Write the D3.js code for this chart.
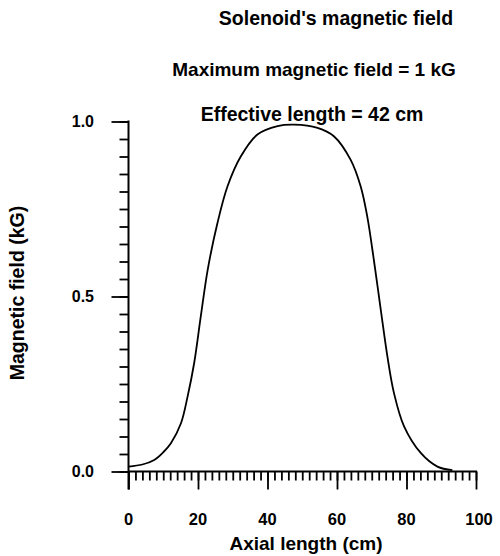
<!DOCTYPE html>
<html>
<head>
<meta charset="utf-8">
<script src="https://cdn.jsdelivr.net/npm/d3@7"></script>
<style>
  html, body { margin: 0; padding: 0; background: #fff; }
  svg { display: block; }
  text { font-family: "Liberation Sans", Arial, Helvetica, sans-serif; font-weight: bold; fill: #000; }
</style>
</head>
<body>
<script>
// ---- data ----
const axialLength = [0, 4, 7.4, 10, 12.2, 15.1, 17, 18.9, 20.8, 22.8, 25.6, 28.5, 32.3, 37.1, 42.9, 47.6, 54.4, 59.1, 63.9, 66.8, 68.7, 70.6, 72.6, 74.5, 76.4, 79.3, 84.1, 88.9, 93.2];
const fieldKG     = [0.014, 0.02, 0.033, 0.055, 0.081, 0.138, 0.214, 0.31, 0.443, 0.577, 0.71, 0.815, 0.90, 0.963, 0.987, 0.991, 0.982, 0.958, 0.891, 0.815, 0.729, 0.605, 0.462, 0.329, 0.224, 0.129, 0.053, 0.014, 0.004];
const xTickLabels = [0, 20, 40, 60, 80, 100];
const yTickLabels = [0.0, 0.5, 1.0];
const titleLines  = ["Solenoid's magnetic field", "Maximum magnetic field = 1 kG", "Effective length = 42 cm"];
const xTitle = "Axial length (cm)";
const yTitle = "Magnetic field (kG)";

const W = 500, H = 556;
const svg = d3.select("body").append("svg").attr("width", W).attr("height", H);

const x = d3.scaleLinear().domain([0, 100]).range([128.5, 476]);
const y = d3.scaleLinear().domain([0, 1]).range([471.5, 121.5]);

// titles
const titlePos = [[336, 25], [314, 76], [312, 121]];
const titleSize = [19.5, 19, 19.5];
svg.selectAll("text.title").data(titleLines).join("text")
  .attr("class", "title")
  .attr("x", (d, i) => titlePos[i][0])
  .attr("y", (d, i) => titlePos[i][1])
  .attr("text-anchor", "middle")
  .style("font-size", (d, i) => titleSize[i] + "px")
  .text(d => d);

// x axis: minor ticks every 2
const xAxisMinor = d3.axisBottom(x).tickValues(d3.range(0, 101, 2)).tickSize(9).tickFormat("");
const xAxisMajor = d3.axisBottom(x).tickValues(xTickLabels).tickSize(18).tickFormat("");
const gxMinor = svg.append("g").attr("transform", `translate(0,${y(0)})`).call(xAxisMinor);
const gxMajor = svg.append("g").attr("transform", `translate(0,${y(0)})`).call(xAxisMajor);
[gxMinor, gxMajor].forEach(g => {
  g.selectAll("path.domain").remove();
  g.selectAll("line").attr("stroke", "#000").attr("stroke-width", 1.8);
});
svg.append("line").attr("x1", x(0)).attr("x2", x(100) + 1).attr("y1", y(0)).attr("y2", y(0))
  .attr("stroke", "#000").attr("stroke-width", 2);

svg.selectAll("text.xtick").data(xTickLabels).join("text")
  .attr("class", "xtick")
  .attr("x", d => x(d) + (d === 100 ? 3 : 0))
  .attr("y", 525)
  .attr("text-anchor", "middle")
  .style("font-size", "16.5px")
  .text(d => d);

// y axis: minor every 0.05
const yAxisMinor = d3.axisLeft(y).tickValues(d3.range(0, 21).map(i => i * 0.05)).tickSize(9).tickFormat("");
const yAxisMajor = d3.axisLeft(y).tickValues(yTickLabels).tickSize(17).tickFormat("");
const gyMinor = svg.append("g").attr("transform", `translate(${x(0)},0)`).call(yAxisMinor);
const gyMajor = svg.append("g").attr("transform", `translate(${x(0)},0)`).call(yAxisMajor);
[gyMinor, gyMajor].forEach(g => {
  g.selectAll("path.domain").remove();
  g.selectAll("line").attr("stroke", "#000").attr("stroke-width", 1.8);
});
svg.append("line").attr("x1", x(0)).attr("x2", x(0)).attr("y1", y(0) + 18).attr("y2", y(1) - 1)
  .attr("stroke", "#000").attr("stroke-width", 2);

svg.selectAll("text.ytick").data(yTickLabels).join("text")
  .attr("class", "ytick")
  .attr("x", 94)
  .attr("y", d => y(d) + 5.5)
  .attr("text-anchor", "end")
  .style("font-size", "16px")
  .text(d => d.toFixed(1));

// axis titles
svg.append("text").attr("x", 306).attr("y", 550).attr("text-anchor", "middle")
  .style("font-size", "19px").text(xTitle);
svg.append("text").attr("transform", `translate(24,293) rotate(-90)`).attr("text-anchor", "middle")
  .style("font-size", "19.5px").text(yTitle);

// curve
const pts = axialLength.map((v, i) => [v, fieldKG[i]]);
const line = d3.line().x(d => x(d[0])).y(d => y(d[1])).curve(d3.curveCatmullRom.alpha(0.5));
svg.append("path").datum(pts).attr("d", line)
  .attr("fill", "none").attr("stroke", "#000").attr("stroke-width", 1.8);
</script>
</body>
</html>
